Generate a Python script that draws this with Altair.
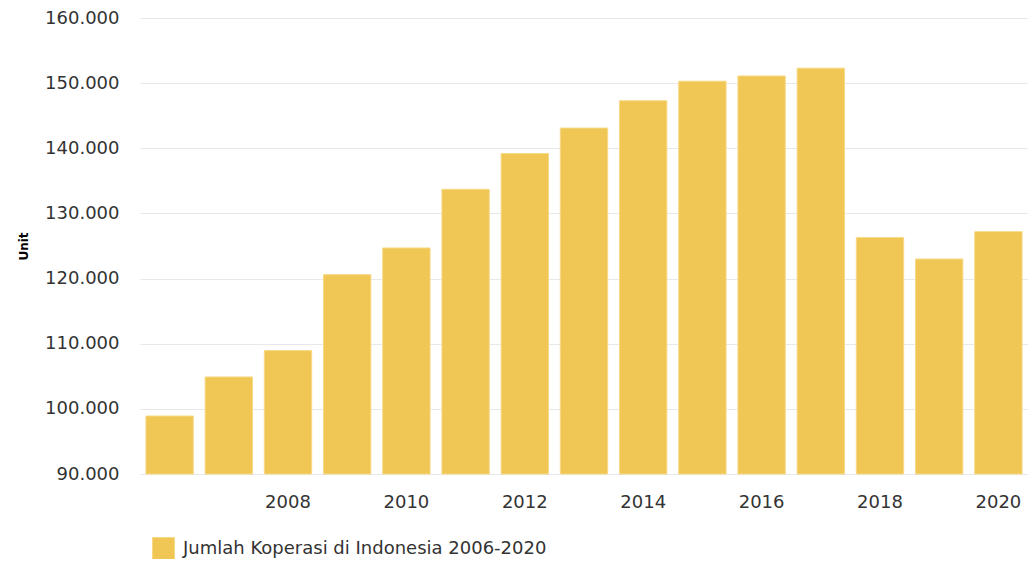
import altair as alt
import pandas as pd

years = [2006, 2007, 2008, 2009, 2010, 2011, 2012, 2013, 2014, 2015, 2016, 2017, 2018, 2019, 2020]
values = [98900, 104900, 108950, 120600, 124700, 133700, 139200, 143100, 147300, 150300, 151100, 152300, 126300, 123000, 127200]
series = "Jumlah Koperasi di Indonesia 2006-2020"
y_ticks = [90000, 100000, 110000, 120000, 130000, 140000, 150000, 160000]
x_labels = [2008, 2010, 2012, 2014, 2016, 2018, 2020]

df = pd.DataFrame({"Tahun": years, "Unit": values, "Seri": [series] * len(years)})

FONT = "DejaVu Sans"

chart = alt.Chart(df).mark_bar(
    stroke="#f7d986", strokeWidth=1, fillOpacity=1
).encode(
    x=alt.X("Tahun:O",
            scale=alt.Scale(paddingInner=0.2, paddingOuter=0.1),
            axis=alt.Axis(values=x_labels, title=None, labelAngle=0, ticks=False,
                          domain=False, grid=False, labelFontSize=18, labelColor="#333333",
                          labelFont=FONT, labelPadding=19)),
    y=alt.Y("Unit:Q",
            scale=alt.Scale(domain=[90000, 160000], nice=False, zero=False),
            axis=alt.Axis(values=y_ticks, title="Unit", ticks=False, domain=False,
                          grid=True, gridColor="#e8e8e8", gridWidth=1,
                          labelFontSize=18, labelColor="#333333", labelFont=FONT,
                          labelPadding=21,
                          labelExpr="replace(format(datum.value, ',.0f'), ',', '.')",
                          titleFont=FONT, titleFontSize=12, titleFontWeight="bold",
                          titleColor="#000000", titlePadding=14)),
    y2=alt.datum(90000),
    color=alt.Color("Seri:N",
                    scale=alt.Scale(range=["#f0c754"]),
                    legend=alt.Legend(title=None, orient="none", legendX=12, legendY=519,
                                      symbolType="square", symbolSize=484,
                                      symbolStrokeColor="#f7d986", symbolStrokeWidth=1,
                                      symbolOpacity=1,
                                      labelFontSize=18, labelFont=FONT,
                                      labelColor="#333333", labelOffset=8,
                                      labelLimit=600)),
).properties(
    width=888,
    height=456,
    autosize=alt.AutoSizeParams(type="none"),
    padding={"left": 132, "top": 10, "right": 0, "bottom": 85},
).configure_view(
    strokeWidth=0
)

chart.save("out.html", embed_options={"renderer": "svg", "actions": False})
